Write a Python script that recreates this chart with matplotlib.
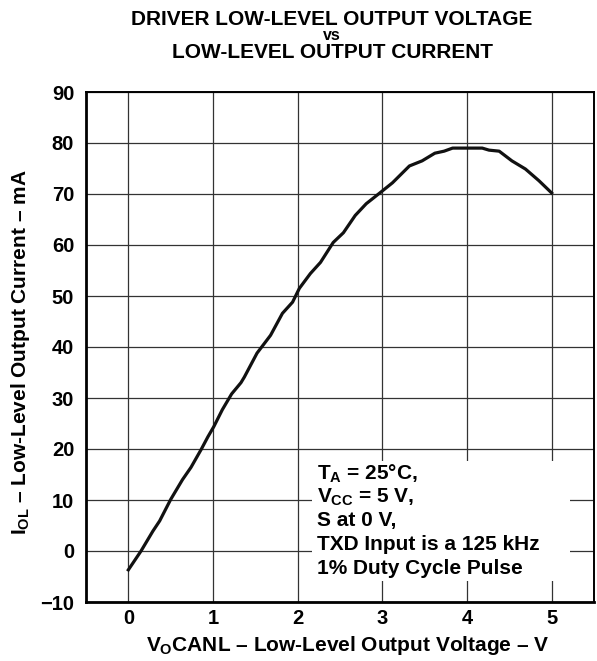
import matplotlib
matplotlib.use("Agg")
import matplotlib.pyplot as plt
from matplotlib.patches import Rectangle

plt.rcParams["font.family"] = ["Liberation Sans", "DejaVu Sans"]
plt.rcParams["font.weight"] = "bold"
plt.rcParams["mathtext.fontset"] = "custom"
plt.rcParams["mathtext.rm"] = "Liberation Sans:bold"
plt.rcParams["mathtext.bf"] = "Liberation Sans:bold"
plt.rcParams["mathtext.it"] = "Liberation Sans:bold"

# curve
v_out = [0.0, 0.15, 0.29, 0.37, 0.5, 0.64, 0.74, 0.86, 0.94, 1.01, 1.11, 1.22,
         1.33, 1.37, 1.52, 1.68, 1.82, 1.94, 2.02, 2.15, 2.27, 2.42, 2.54, 2.68,
         2.81, 2.97, 3.12, 3.32, 3.47, 3.62, 3.73, 3.83, 4.18, 4.26, 4.38, 4.53,
         4.69, 4.85, 5.0]
i_out = [-3.7, 0.0, 3.9, 5.9, 10.1, 14.0, 16.4, 19.9, 22.4, 24.4, 27.7, 30.8,
         33.0, 34.1, 38.8, 42.3, 46.6, 48.8, 51.5, 54.4, 56.6, 60.5, 62.4, 65.8,
         68.1, 70.2, 72.2, 75.5, 76.5, 78.0, 78.4, 79.0, 79.0, 78.6, 78.4, 76.5,
         74.9, 72.6, 70.2]

x_ticks = [0, 1, 2, 3, 4, 5]
y_ticks = [-10, 0, 10, 20, 30, 40, 50, 60, 70, 80, 90]
y_tick_labels = ["\u221210", "0", "10", "20", "30", "40", "50", "60", "70", "80", "90"]

title_lines = ["DRIVER LOW-LEVEL OUTPUT VOLTAGE", "vs", "LOW-LEVEL OUTPUT CURRENT"]
note_lines = ["$T_A$ = 25\u00b0C,", "$V_{CC}$ = 5 V,", "S at 0 V,",
              "TXD Input is a 125 kHz", "1% Duty Cycle Pulse"]

W, H = 597, 661
fig = plt.figure(figsize=(W / 100, H / 100), dpi=100)
ax = fig.add_axes([86 / W, 1 - 602 / H, 508 / W, 510 / H])

ax.plot(v_out, i_out, color="#111111", lw=2.3, zorder=3)

ax.set_xlim(-0.5, 5.5)
ax.set_ylim(-10, 90)
ax.set_xticks(x_ticks)
ax.set_yticks(y_ticks)
ax.set_yticklabels(y_tick_labels)
ax.tick_params(length=0, labelsize=14.5)
ax.tick_params(axis="x", pad=5)
ax.tick_params(axis="y", pad=8.5)
for lab in ax.get_xticklabels() + ax.get_yticklabels():
    lab.set_fontweight("bold")
ax.grid(True, color="#333333", lw=0.9)
ax.set_axisbelow(True)

ax.spines["left"].set_linewidth(2.0)
ax.spines["bottom"].set_linewidth(2.0)
ax.spines["top"].set_linewidth(1.4)
ax.spines["right"].set_linewidth(1.4)

ax.set_xlabel("$V_O$CANL \u2013 Low-Level Output Voltage \u2013 V",
              fontsize=15, fontweight="bold")
ax.set_ylabel("$I_{OL}$ \u2013 Low-Level Output Current \u2013 mA",
              fontsize=15, fontweight="bold")
ax.xaxis.set_label_coords(0.515, -0.063)
ax.yaxis.set_label_coords(-0.106, 0.49)

# white panel behind the test conditions
ax.add_patch(Rectangle((2.17, -5.85), 3.05, 23.4, facecolor="white",
                       edgecolor="none", zorder=2))
note_base = [14.05, 9.46, 4.88, 0.2, -4.49]
for txt, yb in zip(note_lines, note_base):
    ax.text(2.23, yb, txt, fontsize=15, fontweight="bold", va="baseline",
            ha="left", zorder=4)

title_base = [25, 40, 58]
title_size = [15, 11.5, 15]
for txt, yb, fs in zip(title_lines, title_base, title_size):
    fig.text(332 / W, 1 - yb / H, txt, ha="center", va="baseline",
             fontsize=fs, fontweight="bold")

fig.savefig("out.png", dpi=100)
